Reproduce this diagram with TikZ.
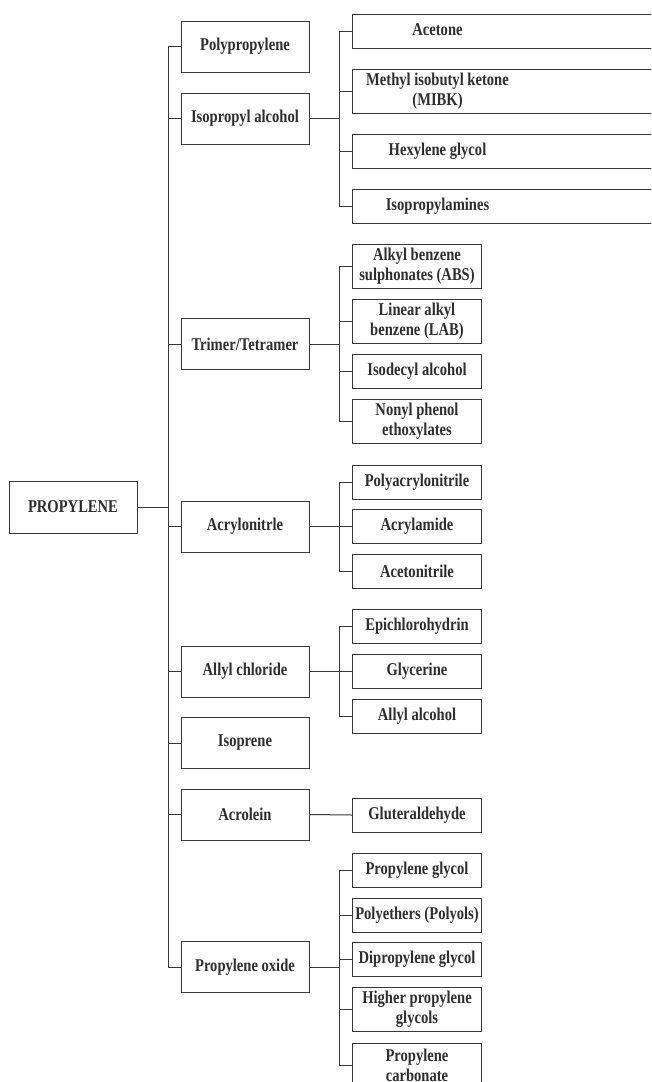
\documentclass[tikz,border=0pt]{standalone}
\usepackage{fontspec}
\setmainfont{Liberation Serif}[FakeStretch=0.81]
\newcommand{\offsettext}[1]{\makebox[170pt]{\begin{tabular}{@{}c@{}}#1\end{tabular}}\hspace*{140pt}}
\tikzset{
  box/.style={draw=black!78, line width=1pt, text=black!82,
    font=\fontsize{18}{20}\selectfont\bfseries, align=center, inner sep=0pt},
  mainbox/.style={box, minimum width=128pt, minimum height=51pt},
  subbox/.style={box, anchor=west, minimum width=129pt, minimum height=34pt},
  tallbox/.style={subbox, minimum height=44pt},
  widebox/.style={box, anchor=west, align=none, minimum height=34pt},
  widetall/.style={widebox, minimum height=44pt},
  link/.style={draw=black!78, line width=1pt},
}
\begin{document}
\begin{tikzpicture}[x=1pt, y=-1pt]
\clip (0,0) rectangle (651,1082);
\fill[white] (0,0) rectangle (651,1082);

% root
\node[mainbox, minimum height=52pt] (prop) at (73,507) {PROPYLENE};

% first level
\node[mainbox] (pp)  at (245,46.5)  {Polypropylene};
\node[mainbox] (ipa) at (245,118.5) {Isopropyl alcohol};
\node[mainbox] (tt)  at (245,344)   {Trimer/Tetramer};
\node[mainbox] (acn) at (245,526.5) {Acrylonitrle};
\node[mainbox] (alc) at (245,671.5) {Allyl chloride};
\node[mainbox] (iso) at (245,743)   {Isoprene};
\node[mainbox] (acr) at (245,814.5) {Acrolein};
\node[mainbox] (po)  at (245,967)   {Propylene oxide};

% isopropyl alcohol derivatives
\node[widebox]  (acet)   at (352,31)    {\offsettext{Acetone}};
\node[widetall] (mibk)   at (352,91)    {\offsettext{Methyl isobutyl ketone\\(MIBK)}};
\node[widebox]  (hexg)   at (352,151.5) {\offsettext{Hexylene glycol}};
\node[widebox]  (amines) at (352,206)   {\offsettext{Isopropylamines}};

% trimer/tetramer derivatives
\node[tallbox] (abs)  at (352,266)   {Alkyl benzene\\sulphonates (ABS)};
\node[tallbox] (lab)  at (352,321.5) {Linear alkyl\\benzene (LAB)};
\node[subbox]  (ida)  at (352,371.5) {Isodecyl alcohol};
\node[tallbox] (npe)  at (352,421)   {Nonyl phenol\\ethoxylates};

% acrylonitrile derivatives
\node[subbox] (pan)  at (352,482)   {Polyacrylonitrile};
\node[subbox] (acam) at (352,526.5) {Acrylamide};
\node[subbox] (acnt) at (352,571)   {Acetonitrile};

% allyl chloride derivatives
\node[subbox] (epi)  at (352,626.5) {Epichlorohydrin};
\node[subbox] (gly)  at (352,671)   {Glycerine};
\node[subbox] (alal) at (352,716)   {Allyl alcohol};

% acrolein derivative
\node[subbox] (glut) at (352,815) {Gluteraldehyde};

% propylene oxide derivatives
\node[subbox]  (pg)   at (352,870)    {Propylene glycol};
\node[subbox]  (pol)  at (352,915)    {Polyethers (Polyols)};
\node[subbox]  (dpg)  at (352,959)    {Dipropylene glycol};
\node[tallbox] (hpg)  at (352,1009.5) {Higher propylene\\glycols};
\node[tallbox] (pc)   at (352,1065)   {Propylene\\carbonate};

% bus lines
\coordinate (bus)  at (168,0);
\coordinate (sbus) at (339,0);

\draw[link] (prop.east) -- (prop.east -| bus);
\draw[link] (pp.west) -- (pp.west -| bus) -- (po.west -| bus) -- (po.west);
\foreach \n in {ipa,tt,acn,alc,iso,acr}
  \draw[link] (\n.west) -- (\n.west -| bus);

% isopropyl alcohol group
\draw[link] (ipa.east) -- (ipa.east -| sbus);
\draw[link] (acet.west) -- (acet.west -| sbus) -- (amines.west -| sbus) -- (amines.west);
\foreach \n in {mibk,hexg} \draw[link] (\n.west) -- (\n.west -| sbus);

% trimer/tetramer group
\draw[link] (tt.east) -- (tt.east -| sbus);
\draw[link] (abs.west) -- (abs.west -| sbus) -- (npe.west -| sbus) -- (npe.west);
\foreach \n in {lab,ida} \draw[link] (\n.west) -- (\n.west -| sbus);

% acrylonitrile group
\draw[link] (acn.east) -- (acn.east -| sbus);
\draw[link] (pan.west) -- (pan.west -| sbus) -- (acnt.west -| sbus) -- (acnt.west);
\draw[link] (acam.west) -- (acam.west -| sbus);

% allyl chloride group
\draw[link] (alc.east) -- (alc.east -| sbus);
\draw[link] (epi.west) -- (epi.west -| sbus) -- (alal.west -| sbus) -- (alal.west);
\draw[link] (gly.west) -- (gly.west -| sbus);

% acrolein
\draw[link] (acr.east) -- (glut.west);

% propylene oxide group
\draw[link] (po.east) -- (po.east -| sbus);
\draw[link] (pg.west) -- (pg.west -| sbus) -- (pc.west -| sbus) -- (pc.west);
\foreach \n in {pol,dpg,hpg} \draw[link] (\n.west) -- (\n.west -| sbus);
\end{tikzpicture}
\end{document}
